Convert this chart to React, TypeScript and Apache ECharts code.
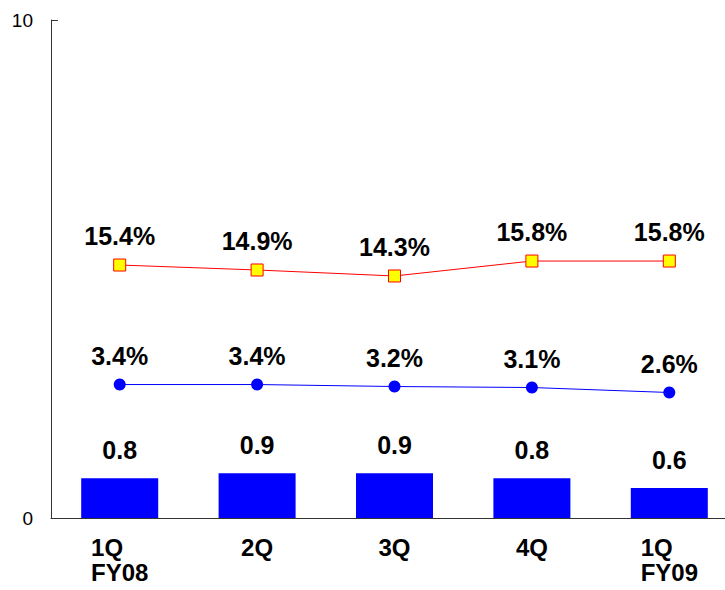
import React, { useEffect, useRef } from "react";
import * as echarts from "echarts";

const categories = ["1Q\nFY08", "2Q", "3Q", "4Q", "1Q\nFY09"];
const barValues = [0.8, 0.9, 0.9, 0.8, 0.6];
const redLineValues = [15.4, 14.9, 14.3, 15.8, 15.8];
const blueLineValues = [3.4, 3.4, 3.2, 3.1, 2.6];
const yTickLabels = ["0", "10"];

const FONT = "'Liberation Sans', Arial, sans-serif";

export default function App() {
  const ref = useRef<HTMLDivElement>(null);
  useEffect(() => {
    document.body.style.margin = "0";
    const chart = echarts.init(ref.current!, null, { renderer: "svg" });
    const valueLabel = {
      show: true,
      position: "top" as const,
      fontFamily: FONT,
      fontWeight: "bold" as const,
      fontSize: 25,
      color: "#000",
    };
    const xFont = { fontFamily: FONT, fontWeight: "bold", fontSize: 24, lineHeight: 25, color: "#000" };
    chart.setOption({
      animation: false,
      backgroundColor: "#fff",
      grid: {
        left: 51,
        top: 20,
        bottom: 72,
        width: 687,
        containLabel: false,
        outerBoundsMode: "none",
      },
      xAxis: {
        type: "category",
        data: categories,
        axisLine: { lineStyle: { color: "#333", width: 1 } },
        axisTick: { inside: true, length: 8, lineStyle: { color: "#555" } },
        axisLabel: {
          ...xFont,
          margin: 17,
          interval: 0,
          formatter: (v: string) =>
            v.includes("\n")
              ? v.split("\n").map((l) => `{a|${l}}`).join("\n")
              : `{b|${v}}`,
          rich: {
            a: { ...xFont, align: "left" },
            b: { ...xFont },
          },
        },
      },
      yAxis: [
        {
          type: "value",
          min: 0,
          max: 10,
          interval: 10,
          splitLine: { show: false },
          axisLine: { show: true, lineStyle: { color: "#333", width: 1 } },
          axisTick: { show: true, inside: true, length: 7, lineStyle: { color: "#333" } },
          axisLabel: {
            margin: 18,
            fontFamily: FONT,
            fontSize: 19,
            color: "#000",
            formatter: (v: number) => yTickLabels[v === 0 ? 0 : 1],
          },
        },
        { type: "value", min: -10, max: 40, show: false, splitLine: { show: false } },
      ],
      series: [
        {
          type: "bar",
          data: barValues,
          barWidth: 77,
          itemStyle: { color: "#0000FF" },
          label: { ...valueLabel, distance: 16 },
          z: 1,
        },
        {
          type: "line",
          yAxisIndex: 1,
          data: redLineValues,
          symbol: "rect",
          symbolSize: 12,
          lineStyle: { color: "#FF0000", width: 1 },
          itemStyle: { color: "#FFFF00", borderColor: "#FF0000", borderWidth: 1 },
          label: { ...valueLabel, distance: 10, formatter: (p: any) => `${p.value}%` },
          z: 3,
        },
        {
          type: "line",
          yAxisIndex: 1,
          data: blueLineValues,
          symbol: "circle",
          symbolSize: 12,
          lineStyle: { color: "#0000FF", width: 1 },
          itemStyle: { color: "#0000FF", borderWidth: 0 },
          label: { ...valueLabel, distance: 10, formatter: (p: any) => `${p.value}%` },
          z: 3,
        },
      ],
    });
    return () => chart.dispose();
  }, []);
  return (
    <div
      ref={ref}
      style={{ position: "fixed", left: 0, top: 0, width: 725, height: 590 }}
    />
  );
}
